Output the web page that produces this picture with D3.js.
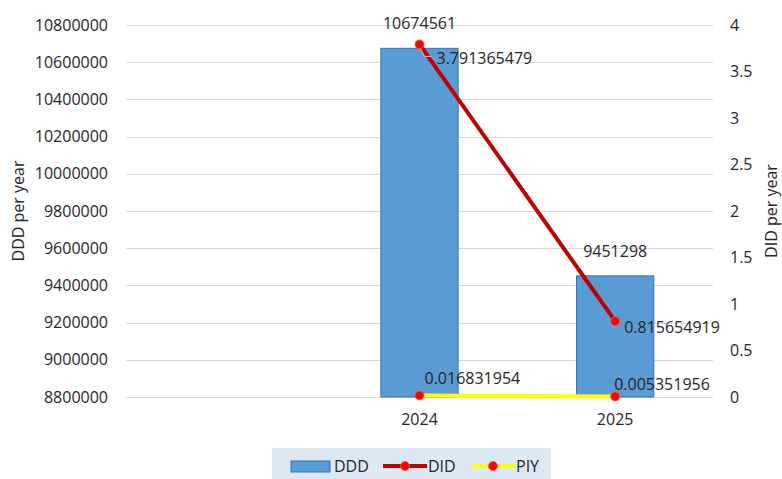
<!DOCTYPE html>
<html><head><meta charset="utf-8">
<script src="https://cdn.jsdelivr.net/npm/d3@7"></script>
<style>
html,body{margin:0;padding:0;background:#fff;}
text{font-family:"Open Sans","Noto Sans",sans-serif;}
</style></head>
<body><svg id="c" width="782" height="479"></svg>
<script>
const categories = ["", "2024", "2025"];
const dddValues = [null, 10674561, 9451298];
const didValues = [null, 3.791365479, 0.815654919];
const piyValues = [null, 0.016831954, 0.005351956];
const leftTicks = [8800000, 9000000, 9200000, 9400000, 9600000, 9800000, 10000000, 10200000, 10400000, 10600000, 10800000];
const rightTicks = [0, 0.5, 1, 1.5, 2, 2.5, 3, 3.5, 4];
const seriesNames = ["DDD", "DID", "PIY"];

const svg = d3.select("#c");
const L = 126, R = 713, T = 25, B = 397;
const fs = 16, tc = "#262626";
const ff = '"Open Sans","Noto Sans",sans-serif';

const x = d3.scaleBand().domain(categories).range([L, R]).paddingInner(0.6).paddingOuter(0.3);
const yL = d3.scaleLinear().domain([8800000, 10800000]).range([B, T]);
const yR = d3.scaleLinear().domain([0, 4]).range([B, T]);

// gridlines
svg.append("g").selectAll("line").data(leftTicks).join("line")
  .attr("x1", L).attr("x2", R)
  .attr("y1", d => Math.round(yL(d)) + 0.5).attr("y2", d => Math.round(yL(d)) + 0.5)
  .attr("stroke", "#d9d9d9").attr("stroke-width", 1);

// left axis
const gL = svg.append("g").attr("transform", `translate(${L},0)`)
  .call(d3.axisLeft(yL).tickValues(leftTicks).tickFormat(d3.format("d")).tickSize(0).tickPadding(18));
gL.select(".domain").remove();
gL.selectAll("text").attr("font-size", fs).attr("fill", tc).attr("font-family", ff);

// right axis
const gR = svg.append("g").attr("transform", `translate(${R},0)`)
  .call(d3.axisRight(yR).tickValues(rightTicks).tickFormat(d => String(d)).tickSize(0).tickPadding(17));
gR.select(".domain").remove();
gR.selectAll("text").attr("font-size", fs).attr("fill", tc).attr("font-family", ff);

// bottom axis
const gB = svg.append("g").attr("transform", `translate(0,${B})`)
  .call(d3.axisBottom(x).tickSize(0).tickPadding(17));
gB.select(".domain").remove();
gB.selectAll("text").attr("font-size", fs).attr("fill", tc).attr("font-family", ff);

// bars
const barData = categories.map((c, i) => ({c, v: dddValues[i]})).filter(d => d.v != null);
svg.append("g").selectAll("rect").data(barData).join("rect")
  .attr("x", d => x(d.c) + 0.5).attr("width", x.bandwidth() - 1)
  .attr("y", d => yL(d.v)).attr("height", d => B - yL(d.v))
  .attr("fill", "#5b9bd5").attr("stroke", "#2e75b6").attr("stroke-width", 1);

const cx = c => x(c) + x.bandwidth() / 2;

// lines
const piyData = categories.map((c, i) => ({c, v: piyValues[i]})).filter(d => d.v != null);
const didData = categories.map((c, i) => ({c, v: didValues[i]})).filter(d => d.v != null);
const line = d3.line().x(d => cx(d.c)).y(d => yR(d.v));
svg.append("path").datum(piyData).attr("d", line).attr("fill", "none").attr("stroke", "#ffff00").attr("stroke-width", 4);
svg.append("path").datum(didData).attr("d", line).attr("fill", "none").attr("stroke", "#c00000").attr("stroke-width", 4);

// DID leader line
svg.append("path").attr("d", `M${cx("2024")},${yR(didValues[1])+3} L${cx("2024")+5},${yR(didValues[1])+12} L${cx("2024")+12},${yR(didValues[1])+12}`)
  .attr("fill", "none").attr("stroke", "#d9c9a0").attr("stroke-width", 1);

[piyData, didData].forEach(dd => {
  svg.append("g").selectAll("circle").data(dd).join("circle")
    .attr("cx", d => cx(d.c)).attr("cy", d => yR(d.v)).attr("r", 4.5)
    .attr("fill", "#ff0000").attr("stroke", "#ff5a1f").attr("stroke-width", 0.8);
});

// data labels
const lab = (t, xx, yy, anchor) => svg.append("text").text(t).attr("x", xx).attr("y", yy)
  .attr("text-anchor", anchor).attr("font-size", fs).attr("fill", tc).attr("dominant-baseline", "central");
lab(String(dddValues[1]), cx("2024"), yL(dddValues[1]) - 25, "middle");
lab(String(dddValues[2]), cx("2025"), yL(dddValues[2]) - 25, "middle");
lab(String(didValues[1]), cx("2024") + 17, yR(didValues[1]) + 14, "start");
lab(String(didValues[2]), cx("2025") + 9, yR(didValues[2]) + 6, "start");
lab(String(piyValues[1]), cx("2024") + 5, yR(piyValues[1]) - 17, "start");
lab(String(piyValues[2]), cx("2025") - 1, yR(piyValues[2]) - 13, "start");

// axis titles
svg.append("text").text("DDD per year").attr("transform", `translate(18,${(T+B)/2}) rotate(-90)`)
  .attr("text-anchor", "middle").attr("dominant-baseline", "central").attr("font-size", fs).attr("fill", tc);
svg.append("text").text("DID per year").attr("transform", `translate(771,${(T+B)/2}) rotate(-90)`)
  .attr("text-anchor", "middle").attr("dominant-baseline", "central").attr("font-size", fs).attr("fill", tc);

// legend
const lg = svg.append("g");
lg.append("rect").attr("x", 272).attr("y", 448).attr("width", 279).attr("height", 31).attr("fill", "#dce9f5");
const ly = 466;
lg.append("rect").attr("x", 291).attr("y", 461).attr("width", 39).attr("height", 11).attr("fill", "#5b9bd5").attr("stroke", "#2e75b6");
lg.append("text").text(seriesNames[0]).attr("x", 334).attr("y", ly).attr("dominant-baseline", "central").attr("font-size", fs).attr("fill", tc);
lg.append("line").attr("x1", 383).attr("x2", 427).attr("y1", ly).attr("y2", ly).attr("stroke", "#c00000").attr("stroke-width", 4);
lg.append("circle").attr("cx", 405).attr("cy", ly).attr("r", 4.5).attr("fill", "#ff0000").attr("stroke", "#ff5a1f").attr("stroke-width", 0.8);
lg.append("text").text(seriesNames[1]).attr("x", 428).attr("y", ly).attr("dominant-baseline", "central").attr("font-size", fs).attr("fill", tc);
lg.append("line").attr("x1", 472).attr("x2", 515).attr("y1", ly).attr("y2", ly).attr("stroke", "#ffff00").attr("stroke-width", 4);
lg.append("circle").attr("cx", 493).attr("cy", ly).attr("r", 4.5).attr("fill", "#ff0000").attr("stroke", "#ff5a1f").attr("stroke-width", 0.8);
lg.append("text").text(seriesNames[2]).attr("x", 516).attr("y", ly).attr("dominant-baseline", "central").attr("font-size", fs).attr("fill", tc);
</script></body></html>
